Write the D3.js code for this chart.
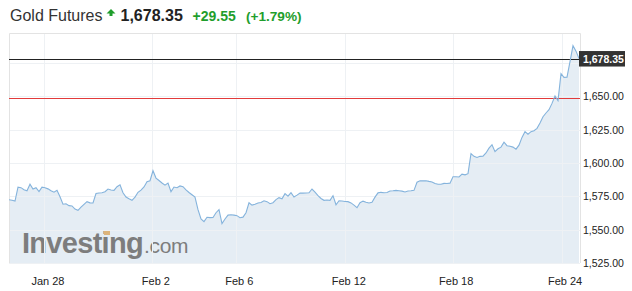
<!DOCTYPE html>
<html>
<head>
<meta charset="utf-8">
<script src="https://cdn.jsdelivr.net/npm/d3@7"></script>
<style>
  body { margin: 0; background: #fff; }
  text { font-family: "Liberation Sans", Arial, sans-serif; }
</style>
</head>
<body>
<div id="chart"></div>
<script>
// Price samples (evenly spaced in trading time)
const prices = [
    1572.5, 1572.0, 1571.4, 1581.9, 1581.5, 1580.0, 1579.2, 1584.1, 1580.5, 1581.5,
    1578.5, 1581.9, 1581.4, 1580.6, 1579.2, 1578.1, 1579.5, 1574.7, 1569.1, 1569.4,
    1568.0, 1567.8, 1565.4, 1564.5, 1566.9, 1569.0, 1571.0, 1570.1, 1570.0, 1577.1,
    1577.5, 1577.7, 1578.5, 1580.5, 1579.8, 1579.5, 1582.2, 1583.7, 1577.7, 1574.5,
    1573.2, 1572.0, 1574.4, 1578.0, 1579.6, 1582.0, 1586.0, 1586.7, 1594.2, 1588.7,
    1586.9, 1585.0, 1583.4, 1585.0, 1578.5, 1582.0, 1581.5, 1582.8, 1582.2, 1579.8,
    1577.9, 1576.2, 1574.4, 1565.0, 1558.0, 1556.0, 1559.3, 1559.0, 1559.1, 1562.7,
    1565.0, 1554.5, 1558.0, 1560.9, 1561.2, 1560.9, 1560.5, 1559.0, 1559.4, 1562.7,
    1570.2, 1568.4, 1569.1, 1570.0, 1570.4, 1571.7, 1571.0, 1569.5, 1570.2, 1572.5,
    1574.0, 1573.2, 1577.0, 1575.1, 1577.7, 1574.5, 1575.9, 1577.5, 1577.4, 1577.5,
    1577.7, 1580.5, 1578.1, 1575.5, 1573.4, 1572.0, 1572.3, 1572.0, 1575.5, 1568.7,
    1571.7, 1571.5, 1571.1, 1571.0, 1570.1, 1568.4, 1566.5, 1570.2, 1571.4, 1570.5,
    1570.0, 1570.5, 1574.4, 1577.6, 1578.0, 1577.7, 1577.9, 1579.0, 1579.2, 1579.5,
    1579.2, 1578.9, 1578.3, 1579.0, 1579.2, 1579.5, 1585.6, 1586.7, 1586.6, 1586.7,
    1586.2, 1585.8, 1584.6, 1584.1, 1584.1, 1584.7, 1584.6, 1584.9, 1589.7, 1589.7,
    1589.5, 1591.6, 1591.1, 1592.0, 1607.0, 1605.0, 1604.2, 1605.0, 1605.1, 1607.5,
    1611.1, 1613.7, 1608.5, 1610.7, 1611.9, 1615.6, 1613.0, 1612.5, 1611.9, 1610.4,
    1613.4, 1619.2, 1623.5, 1621.6, 1623.5, 1624.2, 1626.0, 1630.0, 1634.7, 1637.5,
    1640.0, 1644.7, 1650.3, 1646.7, 1667.0, 1664.2, 1664.4, 1676.0, 1688.0, 1683.9,
    1678.35
];

// Date ticks (position in sample index)
const dateLabels = ["Jan 28", "Feb 2", "Feb 6", "Feb 12", "Feb 18", "Feb 24"];
const datePos = [11.8, 47.8, 75.6, 112.1, 147.9, 184.2];

// Price ticks
const priceTicks = [1525, 1550, 1575, 1600, 1625, 1650];
const gridTicks = [1525, 1550, 1575, 1600, 1625, 1650, 1675];

const lastPrice = 1678.35;
const prevClose = 1648.80;
const change = "+29.55";
const changePct = "(+1.79%)";

let width = 632, height = 291;
let margin = { top: 33, right: 52, bottom: 28, left: 9 };

let svg = d3.select('#chart')
    .append('svg')
    .attr('width', width)
    .attr('height', height);

const xScale = d3.scaleLinear()
    .domain([0, prices.length - 1])
    .range([margin.left, width - margin.right - 1]);

const yScale = d3.scaleLinear()
    .domain([1525, 1697.5])
    .range([height - margin.bottom, margin.top]);

const plotRight = width - margin.right;
const plotBottom = height - margin.bottom;

// Header
const green = '#1f9e2c';
let header = svg.append('g');
header.append('text')
    .attr('x', 10).attr('y', 21)
    .attr('font-size', 16)
    .attr('fill', '#333')
    .text('Gold Futures');
header.append('path')
    .attr('d', 'M111,9 L115.5,13.5 L112.5,13.5 L112.5,16 L109.5,16 L109.5,13.5 L106.5,13.5 Z')
    .attr('fill', green);
header.append('text')
    .attr('x', 120.5).attr('y', 21)
    .attr('font-size', 16)
    .attr('font-weight', 'bold')
    .attr('fill', '#222')
    .text(d3.format(',.2f')(lastPrice));
header.append('text')
    .attr('x', 192.5).attr('y', 21)
    .attr('font-size', 14)
    .attr('font-weight', 'bold')
    .attr('fill', green)
    .text(change);
header.append('text')
    .attr('x', 246).attr('y', 21)
    .attr('font-size', 13.6)
    .attr('font-weight', 'bold')
    .attr('fill', green)
    .text(changePct);

// Area under the line
let area = d3.area()
    .x((d, i) => xScale(i))
    .y0(plotBottom)
    .y1(d => yScale(d));

svg.append('path')
    .datum(prices)
    .attr('d', area)
    .attr('fill', '#e5edf4');

// Watermark
let mark = svg.append('g').attr('fill', '#7d7d7d');
mark.append('text')
    .attr('x', 22).attr('y', 253)
    .attr('font-size', 29)
    .attr('font-weight', 'bold')
    .attr('letter-spacing', -0.7)
    .text('Investing');
mark.append('text')
    .attr('x', 144).attr('y', 253)
    .attr('font-size', 21)
    .attr('letter-spacing', -0.3)
    .text('.com');
svg.append('rect')
    .attr('x', 104).attr('y', 231)
    .attr('width', 6).attr('height', 4)
    .attr('fill', '#dcb47c');

// Gridlines
svg.append('g')
    .selectAll('line')
    .data(gridTicks)
    .enter()
    .append('line')
    .attr('x1', margin.left).attr('x2', plotRight)
    .attr('y1', d => Math.round(yScale(d)) + 0.5)
    .attr('y2', d => Math.round(yScale(d)) + 0.5)
    .attr('stroke', '#eef1f4');

svg.append('g')
    .selectAll('line')
    .data(datePos)
    .enter()
    .append('line')
    .attr('x1', d => Math.round(xScale(d)) + 0.5)
    .attr('x2', d => Math.round(xScale(d)) + 0.5)
    .attr('y1', margin.top).attr('y2', plotBottom)
    .attr('stroke', '#eef1f4');

// Plot frame (top, left, right)
svg.append('path')
    .attr('d', `M${margin.left + 0.5},${plotBottom} V${margin.top + 0.5} H${plotRight + 0.5} V${plotBottom}`)
    .attr('fill', 'none')
    .attr('stroke', '#e3e3e3');

// Previous close and last price lines
svg.append('line')
    .attr('x1', margin.left).attr('x2', plotRight)
    .attr('y1', Math.round(yScale(prevClose)) + 0.5)
    .attr('y2', Math.round(yScale(prevClose)) + 0.5)
    .attr('stroke', '#e23b3b');

svg.append('line')
    .attr('x1', margin.left).attr('x2', plotRight)
    .attr('y1', Math.round(yScale(lastPrice)) + 0.5)
    .attr('y2', Math.round(yScale(lastPrice)) + 0.5)
    .attr('stroke', '#222');

// Price line
let line = d3.line()
    .x((d, i) => xScale(i))
    .y(d => yScale(d));

svg.append('path')
    .datum(prices)
    .attr('d', line)
    .attr('fill', 'none')
    .attr('stroke', '#84b3dc')
    .attr('stroke-width', 1.1);

// Y axis on the right
let yaxis = svg.append('g')
    .attr('transform', `translate(${plotRight},0)`)
    .call(d3.axisRight(yScale)
        .tickValues(priceTicks)
        .tickFormat(d3.format(',.2f'))
        .tickSize(0)
        .tickPadding(3));
yaxis.select('.domain').remove();
yaxis.selectAll('text')
    .attr('font-family', '"Liberation Sans", Arial, sans-serif')
    .attr('font-size', 10.5)
    .attr('fill', '#222');

// Last price box
let boxY = yScale(lastPrice);
svg.append('rect')
    .attr('x', plotRight - 1).attr('y', boxY - 7.5)
    .attr('width', 46).attr('height', 15.5)
    .attr('fill', '#333');
svg.append('text')
    .attr('x', plotRight + 3).attr('y', boxY + 4)
    .attr('font-size', 10.5)
    .attr('font-weight', 'bold')
    .attr('fill', '#fff')
    .text(d3.format(',.2f')(lastPrice));

// X axis
let xaxis = svg.append('g')
    .attr('transform', `translate(3,${plotBottom})`)
    .call(d3.axisBottom(xScale)
        .tickValues(datePos)
        .tickFormat((d, i) => dateLabels[i])
        .tickSize(0)
        .tickPadding(14));
xaxis.select('.domain').remove();
xaxis.selectAll('text')
    .attr('font-family', '"Liberation Sans", Arial, sans-serif')
    .attr('font-size', 11)
    .attr('fill', '#222');
</script>
</body>
</html>
